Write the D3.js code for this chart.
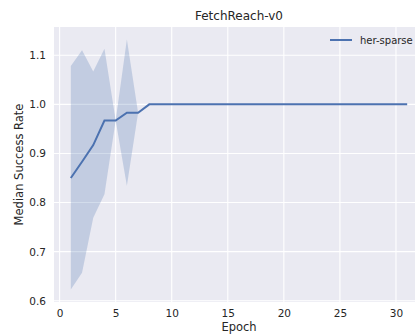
<!DOCTYPE html>
<meta charset="utf-8">
<style>
body { margin: 0; background: #fff; }
text { font-family: "DejaVu Sans", sans-serif; fill: #262626; }
.axis .domain { display: none; }
.axis line { display: none; }
</style>
<body>
<svg width="415" height="334"></svg>
<script src="https://d3js.org/d3.v7.min.js"></script>
<script>
var epochs = d3.range(1, 32);
var median = [0.85, 0.883, 0.917, 0.967, 0.967, 0.983, 0.983, 1, 1, 1, 1, 1, 1, 1, 1, 1,
              1, 1, 1, 1, 1, 1, 1, 1, 1, 1, 1, 1, 1, 1, 1];
var upper = [1.078, 1.11, 1.067, 1.113, 0.967, 1.132, 0.983, 1, 1, 1, 1, 1, 1, 1, 1, 1,
             1, 1, 1, 1, 1, 1, 1, 1, 1, 1, 1, 1, 1, 1, 1];
var lower = [0.623, 0.657, 0.769, 0.817, 0.967, 0.834, 0.983, 1, 1, 1, 1, 1, 1, 1, 1, 1,
             1, 1, 1, 1, 1, 1, 1, 1, 1, 1, 1, 1, 1, 1, 1];
var xTicks = [0, 5, 10, 15, 20, 25, 30];
var yTicks = [0.6, 0.7, 0.8, 0.9, 1.0, 1.1];
var seriesName = "her-sparse";

var svg = d3.select("svg"),
    margin = {top: 27, left: 54},
    width = 370, height = 275;

var x = d3.scaleLinear().domain([-0.5, 32.5]).range([margin.left, margin.left + width]);
var y = d3.scaleLinear().domain([0.5975, 1.1575]).range([margin.top + height, margin.top]);

svg.append("rect")
    .attr("x", margin.left).attr("y", margin.top)
    .attr("width", width).attr("height", height)
    .attr("fill", "#eaeaf2");

// grid
svg.append("g").selectAll("line").data(xTicks).enter().append("line")
    .attr("x1", x).attr("x2", x)
    .attr("y1", margin.top).attr("y2", margin.top + height)
    .attr("stroke", "#fff").attr("stroke-width", 1.1);
svg.append("g").selectAll("line").data(yTicks).enter().append("line")
    .attr("y1", y).attr("y2", y)
    .attr("x1", margin.left).attr("x2", margin.left + width)
    .attr("stroke", "#fff").attr("stroke-width", 1.1);

var data = epochs.map(function(e, i) { return {e: e, m: median[i], lo: lower[i], hi: upper[i]}; });

svg.append("path")
    .datum(data)
    .attr("fill", "#4c72b0").attr("fill-opacity", 0.25)
    .attr("d", d3.area()
      .x(function(d) { return x(d.e); })
      .y0(function(d) { return y(d.lo); })
      .y1(function(d) { return y(d.hi); }));

svg.append("path")
    .datum(data)
    .attr("fill", "none").attr("stroke", "#4c72b0").attr("stroke-width", 2)
    .attr("d", d3.line()
      .x(function(d) { return x(d.e); })
      .y(function(d) { return y(d.m); }));

// axes
svg.append("g")
    .attr("class", "axis")
    .attr("transform", "translate(0," + (margin.top + height) + ")")
    .call(d3.axisBottom(x).tickValues(xTicks).tickSize(0).tickPadding(8).tickFormat(d3.format("d")))
    .selectAll("text").attr("font-size", 10.5).attr("fill", "#262626");

svg.append("g")
    .attr("class", "axis")
    .attr("transform", "translate(" + margin.left + ",0)")
    .call(d3.axisLeft(y).tickValues(yTicks).tickSize(0).tickPadding(8).tickFormat(d3.format(".1f")))
    .selectAll("text").attr("font-size", 10.5).attr("fill", "#262626");

svg.selectAll(".axis text").style("font-family", "'DejaVu Sans', sans-serif");

svg.append("text")
    .attr("x", margin.left + width / 2).attr("y", 20)
    .attr("text-anchor", "middle").attr("font-size", 12)
    .text("FetchReach-v0");

svg.append("text")
    .attr("x", margin.left + width / 2).attr("y", 331)
    .attr("text-anchor", "middle").attr("font-size", 11.5)
    .text("Epoch");

svg.append("text")
    .attr("transform", "translate(23," + (margin.top + height / 2) + ") rotate(-90)")
    .attr("text-anchor", "middle").attr("font-size", 11.5)
    .text("Median Success Rate");

// legend
var lg = svg.append("g").attr("transform", "translate(330,40)");
lg.append("line").attr("x1", 0).attr("x2", 22).attr("y1", 0).attr("y2", 0)
    .attr("stroke", "#4c72b0").attr("stroke-width", 2);
lg.append("text").attr("x", 30).attr("y", 0).attr("dy", "0.35em")
    .attr("font-size", 10).text(seriesName);
</script>
</body>
